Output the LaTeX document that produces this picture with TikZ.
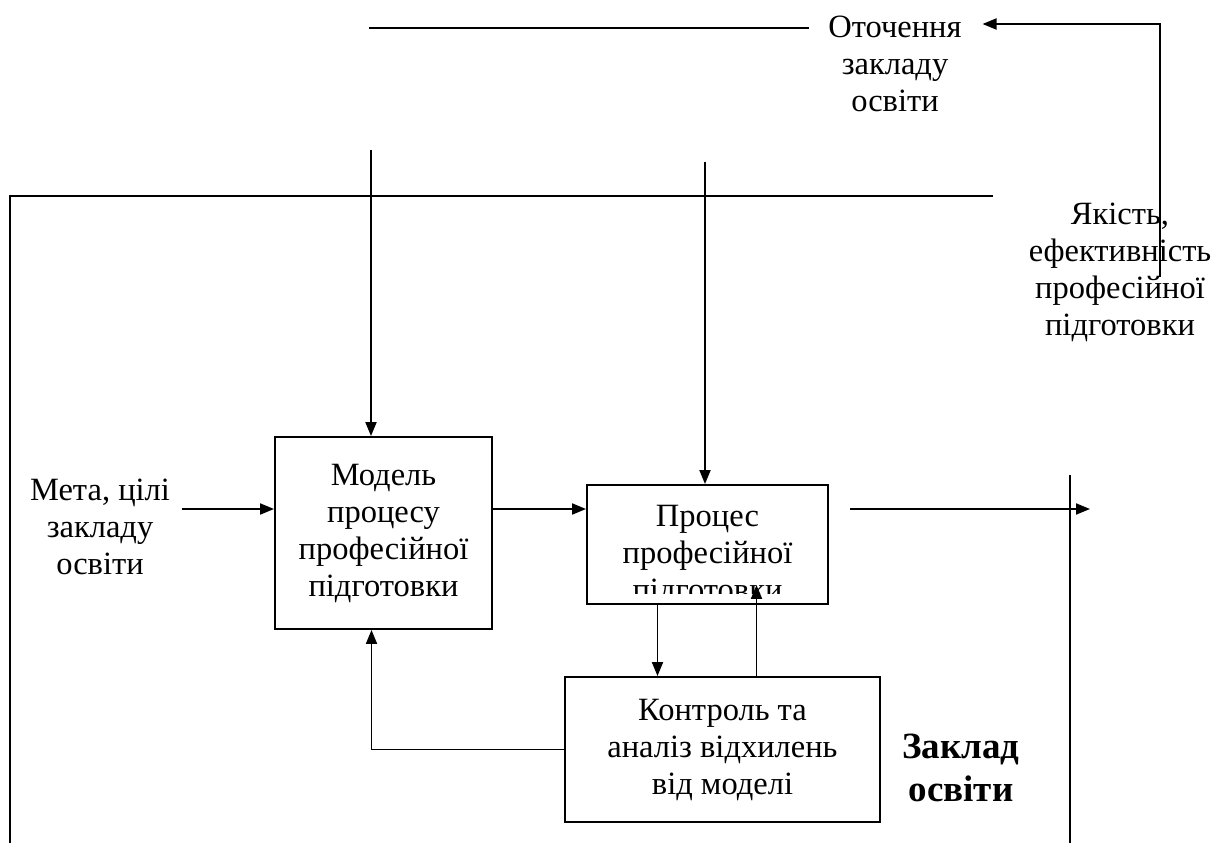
\documentclass[tikz,border=0pt]{standalone}
\usepackage{fontspec}
\setmainfont{Liberation Serif}
\usetikzlibrary{calc,arrows.meta}
\tikzset{>={Triangle[length=14pt,width=11pt]}}

\begin{document}
\begin{tikzpicture}[x=1pt,y=-1pt,line width=1.9pt,
    font=\fontsize{32.5}{37}\selectfont,
    txt/.style={align=center,inner sep=0pt},
    blok/.style={draw,align=center,inner sep=0pt}]
    \useasboundingbox (0,0) rectangle (1216,843);
    % boxes
    \node[blok,minimum width=217pt,minimum height=192pt] (model) at (383.5,533)
        {Модель\\процесу\\професійної\\підготовки};
    \node[blok,minimum width=241pt,minimum height=119pt] (proc) at (707.5,544.5) {};
    \begin{scope}
      \clip (590,488) rectangle (825,593);
      \node[txt] (proctext) at (707.5,556) {Процес\\професійної\\підготовки};
    \end{scope}
    \node[blok,minimum width=315pt,minimum height=145pt] (ctrl) at (722.5,749.5)
        {Контроль та\\аналіз відхилень\\від моделі};
    % labels
    \node[txt] (meta) at (100,527) {Мета, цілі\\закладу\\освіти};
    \node[txt] (env) at (895,64) {Оточення\\закладу\\освіти};
    \node[txt] (qual) at (1120,272) {Якість,\\ефективність\\професійної\\підготовки};
    \node[txt,font=\fontsize{37}{43}\selectfont\bfseries] (school) at (961,768) {Заклад\\освіти};
    % frame
    \draw (993,196) -- (10,196) -- (10,843);
    \draw (1070,475) -- (1070,843);
    % free ends
    \coordinate (envL) at (369,28);
    \coordinate (fbR) at (1160,24);
    \coordinate (fbB) at (1160,277);
    \coordinate (inL) at (182,509);
    \coordinate (topA) at (371,150);
    \coordinate (topB) at (705,162);
    \coordinate (outS) at (850,509);
    \coordinate (outE) at (1090,509);
    % connectors
    \draw (envL) -- ([xshift=-18pt]env.west |- envL);
    \draw[->] (fbB) |- ([xshift=20pt]env.east |- fbR);
    \draw[->] (topA) -- (topA |- model.north);
    \draw[->] (topB) -- (topB |- proc.north);
    \draw[->] (inL) -- (inL -| model.west);
    \draw[->] (model.east |- inL) -- (proc.west |- inL);
    \draw[->] (outS) -- (outE);
    \draw[->] ([xshift=-50pt]proc.south) -- ([xshift=-50pt]proc.south |- ctrl.north);
    \draw[->] ([xshift=49pt]proc.south |- ctrl.north) -- ([xshift=49pt,yshift=20pt]proc.south);
    \draw[->] (ctrl.west) -| ([xshift=-12pt]model.south);
\end{tikzpicture}
\end{document}
